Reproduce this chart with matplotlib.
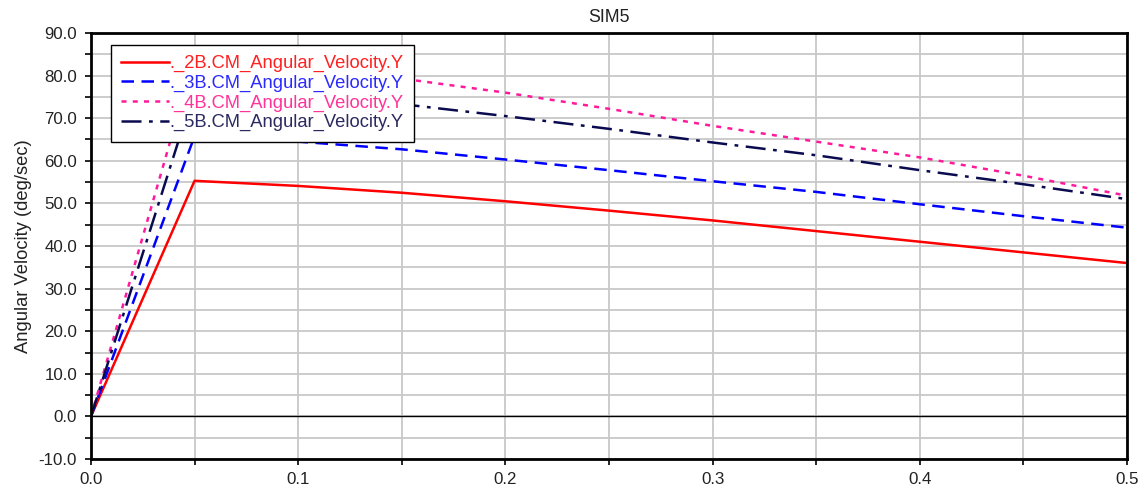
import matplotlib
matplotlib.use("Agg")
import matplotlib.pyplot as plt
from matplotlib.ticker import MultipleLocator, FormatStrFormatter

plt.rcParams['font.family'] = ['Liberation Sans', 'DejaVu Sans']

# Simulation output: angular velocity (deg/sec) of each body versus time (s)
t_2b = [0.0, 0.05, 0.1, 0.15, 0.2, 0.25, 0.3, 0.35, 0.4, 0.45, 0.5]
w_2b = [0.0, 55.3, 54.1, 52.5, 50.5, 48.3, 46.0, 43.5, 41.0, 38.5, 36.0]

t_3b = [0.0, 0.05, 0.1, 0.15, 0.2, 0.25, 0.3, 0.35, 0.4, 0.45, 0.5]
w_3b = [0.0, 65.8, 64.5, 62.7, 60.3, 57.8, 55.2, 52.7, 49.8, 47.0, 44.3]

t_4b = [0.0, 0.048, 0.1, 0.15, 0.2, 0.25, 0.3, 0.35, 0.4, 0.45, 0.5]
w_4b = [0.0, 81.0, 80.5, 79.3, 76.0, 72.2, 68.2, 64.5, 60.8, 56.5, 51.8]

t_5b = [0.0, 0.049, 0.1, 0.15, 0.2, 0.25, 0.3, 0.35, 0.4, 0.45, 0.5]
w_5b = [0.0, 75.0, 74.5, 73.3, 70.5, 67.5, 64.3, 61.3, 57.8, 54.5, 51.0]

labels = ["._2B.CM_Angular_Velocity.Y", "._3B.CM_Angular_Velocity.Y",
          "._4B.CM_Angular_Velocity.Y", "._5B.CM_Angular_Velocity.Y"]
colors = ["#ff0000", "#0000ff", "#ff1a9c", "#0a0a50"]
text_colors = ["#ff2020", "#2a2aff", "#ff3399", "#2a2a60"]

fig = plt.figure(figsize=(11.47, 4.88), dpi=100)
ax = fig.add_axes([0.0793, 0.0594, 0.9033, 0.873])

ax.plot(t_2b, w_2b, color=colors[0], lw=1.8, ls='-', label=labels[0])
ax.plot(t_3b, w_3b, color=colors[1], lw=1.8, ls=(0, (5, 3)), label=labels[1])
ax.plot(t_4b, w_4b, color=colors[2], lw=1.8, ls=(0, (2, 2.5)), label=labels[2])
ax.plot(t_5b, w_5b, color=colors[3], lw=1.8, ls=(0, (8, 3, 1.5, 3)), label=labels[3])

ax.axhline(0, color='black', lw=1.0, zorder=1.5)

ax.set_xlim(0, 0.5)
ax.set_ylim(-10, 90)
ax.xaxis.set_major_locator(MultipleLocator(0.1))
ax.xaxis.set_minor_locator(MultipleLocator(0.05))
ax.yaxis.set_major_locator(MultipleLocator(10))
ax.yaxis.set_minor_locator(MultipleLocator(5))
ax.xaxis.set_major_formatter(FormatStrFormatter('%.1f'))
ax.yaxis.set_major_formatter(FormatStrFormatter('%.1f'))
ax.grid(True, which='both', color='#c8c8c8', lw=1.3, zorder=0)
ax.set_axisbelow(True)
ax.tick_params(which='both', direction='out', length=4, width=1.2, labelsize=12.2,
               colors='black', labelcolor='#222222')
ax.tick_params(axis='x', pad=5)
ax.tick_params(axis='y', pad=6)
for s in ax.spines.values():
    s.set_linewidth(2.0)
    s.set_color('black')

ax.set_title("SIM5", fontsize=12.8, pad=8, color='#222222')
ax.set_ylabel("Angular Velocity (deg/sec)", fontsize=13.2, labelpad=5, color='#222222')

leg = ax.legend(loc='upper left', bbox_to_anchor=(0.0193, 0.972), fontsize=13.2,
                frameon=True, fancybox=False, framealpha=1.0, handlelength=2.6,
                handletextpad=0.05, borderpad=0.55, labelspacing=0.14, borderaxespad=0)
leg.get_frame().set_edgecolor('black')
leg.get_frame().set_linewidth(1.0)
for txt, c in zip(leg.get_texts(), text_colors):
    txt.set_color(c)

fig.savefig("out.png", dpi=100)
